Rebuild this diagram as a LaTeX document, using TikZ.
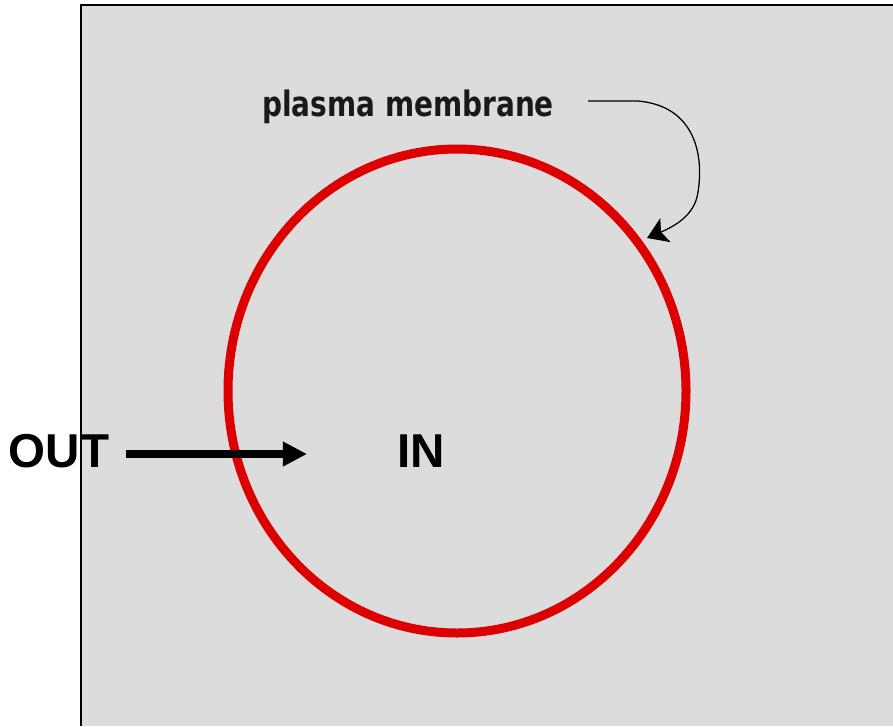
\documentclass[tikz,border=0pt]{standalone}
\usepackage{fontspec}
\setmainfont{Liberation Sans}
\newfontfamily\pmfont{DejaVu Sans}
\usepackage{graphicx}
\usepackage{tikz}
\usetikzlibrary{arrows.meta, positioning, calc}
\definecolor{bgray}{RGB}{220,220,220}
\definecolor{memred}{RGB}{221,0,0}

\begin{document}
\begin{tikzpicture}[
    x=0.025cm, y=-0.025cm,
    big/.style={font=\fontsize{33.8}{40}\selectfont\bfseries,
                inner sep=0pt, anchor=base},
    lbl/.style={font=\pmfont\bfseries\fontsize{19.9}{24}\selectfont,
                inner sep=0pt, anchor=base, text=black!90},
    membrane/.style={draw=memred, line width=6.4pt},
    bigarr/.style={-{Triangle[length=0.6cm, width=0.58cm]},
                   line width=5pt},
    thinarr/.style={-{Stealth[length=0.5cm, width=0.65cm, inset=0.12cm]},
                    line width=0.9pt}
]
    \useasboundingbox (0,0) rectangle (893,726);
    % background panel
    \fill[bgray] (81,5) rectangle (893,726);
    \draw[line width=1.6pt] (81,726) -- (81,5) -- (893,5);

    % the cell
    \draw[membrane] (457,391) ellipse [x radius=229, y radius=242];

    \node[big] (out) at (59,467) {OUT};
    \node[big] (in)  at (421,467) {IN};
    \node[lbl] (pm)  at (408,116) {\scalebox{1}[1.25]{plasma membrane}};

    \coordinate (a0) at (126,454);
    \coordinate (a1) at (307,454);
    \draw[bigarr] (a0) -- (a1);

    \coordinate (src) at (588,101);
    \coordinate (tip) at (647,238);
    \draw[thinarr] (src) -- (638,101)
        .. controls (695,106) and (704,155) .. (698,192)
        .. controls (695,215) and (675,226) .. (tip);
\end{tikzpicture}
\end{document}
